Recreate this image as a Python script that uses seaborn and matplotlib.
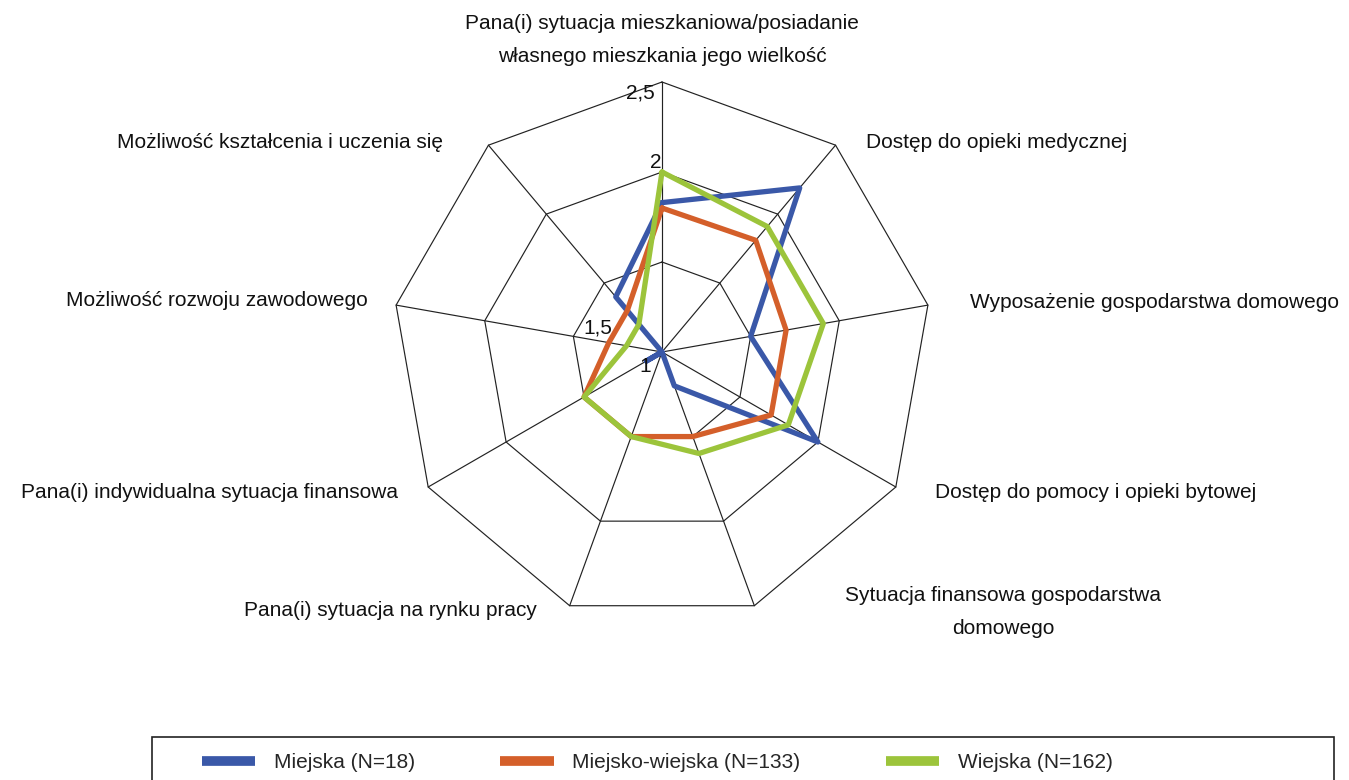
import numpy as np
import pandas as pd
import matplotlib
matplotlib.use("Agg")
import matplotlib.pyplot as plt
from matplotlib.lines import Line2D
from matplotlib.patches import Rectangle
import seaborn as sns

# Categories (clockwise from top)
categories = [
    "Pana(i) sytuacja mieszkaniowa/posiadanie\nwłasnego mieszkania jego wielkość",
    "Dostęp do opieki medycznej",
    "Wyposażenie gospodarstwa domowego",
    "Dostęp do pomocy i opieki bytowej",
    "Sytuacja finansowa gospodarstwa\ndomowego",
    "Pana(i) sytuacja na rynku pracy",
    "Pana(i) indywidualna sytuacja finansowa",
    "Możliwość rozwoju zawodowego",
    "Możliwość kształcenia i uczenia się",
]
series_names = ["Miejska (N=18)", "Miejsko-wiejska (N=133)", "Wiejska (N=162)"]
miejska = [1.83, 2.19, 1.50, 2.00, 1.20, 1.00, 1.10, 1.00, 1.40]
miejsko_wiejska = [1.80, 1.81, 1.70, 1.70, 1.50, 1.50, 1.50, 1.30, 1.30]
wiejska = [2.00, 1.91, 1.91, 1.81, 1.60, 1.50, 1.50, 1.20, 1.20]
ring_levels = [1.5, 2.0, 2.5]
tick_labels = ["2,5", "2", "1,5", "1"]
colors = ["#3A58A8", "#D45F2A", "#9CC43B"]

W, H = 1349, 780
sns.set_style("white")
plt.rcParams["font.family"] = ["Liberation Sans", "DejaVu Sans"]
fs = 15

n = len(categories)
angles = np.arange(n) * 2 * np.pi / n
closed = np.append(angles, 2 * np.pi)

rows = []
for name, vals in zip(series_names, [miejska, miejsko_wiejska, wiejska]):
    v = list(vals) + [vals[0]]
    for t, r in zip(closed, v):
        rows.append({"theta": t, "value": r, "group": name})
df = pd.DataFrame(rows)

fig = plt.figure(figsize=(W / 100, H / 100), dpi=100)
cx, cy, R = 662, 352, 270
ax = fig.add_axes([(cx - R) / W, (H - cy - R) / H, 2 * R / W, 2 * R / H],
                  projection="polar")
ax.set_theta_offset(np.pi / 2)
ax.set_theta_direction(-1)
ax.set_ylim(1, 2.5)
ax.grid(False)
ax.set_xticks([])
ax.set_yticks([])
ax.spines["polar"].set_visible(False)
ax.patch.set_alpha(0)

# polygon grid
for lvl in ring_levels:
    ax.plot(closed, [lvl] * len(closed), color="#222222", lw=0.85, clip_on=False, zorder=1)
for a in angles:
    ax.plot([a, a], [1, 2.5], color="#222222", lw=0.85, clip_on=False, zorder=1)

sns.lineplot(data=df, x="theta", y="value", hue="group", palette=colors,
             hue_order=series_names, sort=False, estimator=None,
             linewidth=3.8, legend=False, ax=ax, zorder=3)
ax.set_xlabel("")
ax.set_ylabel("")

# radial tick labels
tick_pos = [(640, 93), (656, 163), (598, 328), (645, 366)]
for lab, (x, y) in zip(tick_labels, tick_pos):
    fig.text(x / W, 1 - y / H, lab, fontsize=fs, ha="center", va="center", color="#111111")

# category labels
label_pos = [
    (662, 40, "center"),
    (866, 143, "left"),
    (970, 303, "left"),
    (935, 492, "left"),
    (1003, 612, "center"),
    (537, 610, "right"),
    (398, 492, "right"),
    (368, 301, "right"),
    (443, 142, "right"),
]
for lab, (x, y, ha) in zip(categories, label_pos):
    fig.text(x / W, 1 - y / H, lab, fontsize=fs, ha=ha, va="center",
             multialignment="center", linespacing=1.95, color="#111111")

# legend box (cut off at the bottom edge, as in the reference)
fig.patches.append(Rectangle((152 / W, -0.03), (1334 - 152) / W, (780 - 737) / H + 0.03,
                             transform=fig.transFigure, fill=False,
                             edgecolor="#222222", lw=1.2))
handles = [Line2D([0], [0], color=c, lw=7, solid_capstyle="butt") for c in colors]
leg = fig.legend(handles, series_names, loc="center left",
                 bbox_to_anchor=(202 / W, 1 - 763 / H), ncol=3, fontsize=fs,
                 frameon=False, handlelength=2.55, handletextpad=0.9,
                 columnspacing=4.1, borderpad=0, borderaxespad=0)

fig.savefig("out.png", dpi=100)
